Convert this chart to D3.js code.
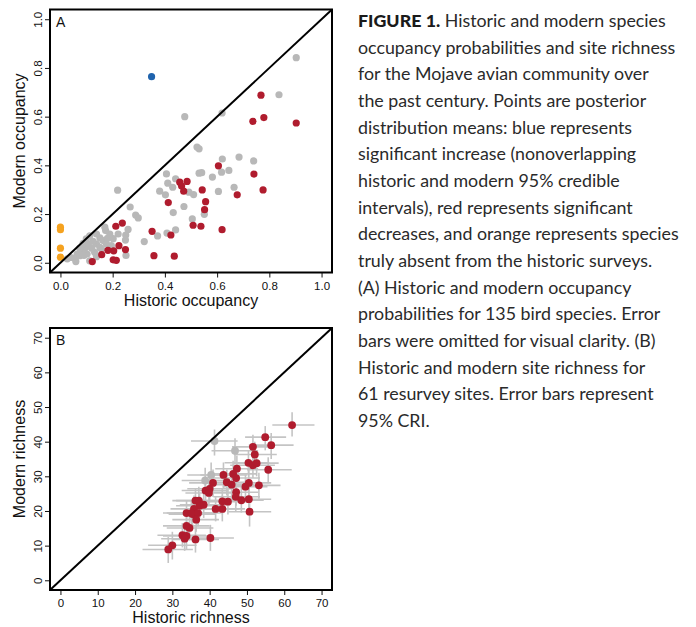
<!DOCTYPE html>
<html>
<head>
<meta charset="utf-8">
<script src="https://cdn.jsdelivr.net/npm/d3@7"></script>
<style>
  html, body { margin: 0; padding: 0; background: #fff; }
  svg { display: block; }
  .tick text { font-family: "Liberation Sans", Arial, sans-serif; font-size: 11.5px; fill: #111; }
  .tick line { stroke: #111; stroke-width: 1; }
  .axis-title { font-family: "Liberation Sans", Arial, sans-serif; font-size: 16px; fill: #111; }
  .panel-tag { font-family: "Liberation Sans", Arial, sans-serif; font-size: 14px; fill: #111; }
  .caption { font-family: Lato, "Open Sans", sans-serif; fill: #2a2a2a; }
</style>
</head>
<body>
<svg id="chart" width="696" height="627"></svg>
<script>
// ---- Panel A: occupancy (historic, modern) ----
const occGray = [
  [0.903, 0.842], [0.837, 0.690], [0.619, 0.615], [0.476, 0.600], [0.523, 0.475],
  [0.531, 0.468], [0.684, 0.434], [0.620, 0.426], [0.740, 0.418], [0.645, 0.379],
  [0.617, 0.372], [0.582, 0.352], [0.531, 0.368], [0.541, 0.370], [0.406, 0.365],
  [0.411, 0.327], [0.430, 0.310], [0.441, 0.345], [0.380, 0.294], [0.402, 0.279],
  [0.473, 0.231], [0.432, 0.206], [0.510, 0.280], [0.505, 0.180], [0.551, 0.199],
  [0.605, 0.293], [0.665, 0.310], [0.492, 0.290], [0.219, 0.298], [0.267, 0.229],
  [0.288, 0.196], [0.298, 0.184], [0.321, 0.087], [0.372, 0.110], [0.408, 0.122],
  [0.441, 0.135], [0.259, 0.137], [0.250, 0.114], [0.249, 0.093], [0.251, 0.030],
  [0.221, 0.118], [0.202, 0.099], [0.189, 0.118], [0.173, 0.132], [0.170, 0.146],
  [0.163, 0.091], [0.151, 0.102], [0.138, 0.077], [0.125, 0.088], [0.107, 0.077],
  [0.097, 0.063], [0.084, 0.049], [0.074, 0.060], [0.064, 0.036], [0.055, 0.019],
  [0.038, 0.022], [0.026, 0.016], [0.102, 0.036], [0.112, 0.008], [0.138, 0.025],
  [0.157, 0.056], [0.112, 0.111], [0.099, 0.098], [0.087, 0.080], [0.151, 0.063],
  [0.131, 0.043], [0.176, 0.077], [0.195, 0.070], [0.074, 0.029], [0.059, 0.005],
  [0.138, 0.118], [0.120, 0.060], [0.090, 0.030], [0.180, 0.100]
];
const occRed = [
  [0.768, 0.688], [0.737, 0.581], [0.779, 0.596], [0.903, 0.574], [0.605, 0.398],
  [0.741, 0.364], [0.776, 0.299], [0.677, 0.279], [0.457, 0.331], [0.485, 0.334],
  [0.464, 0.315], [0.472, 0.294], [0.543, 0.299], [0.556, 0.251], [0.552, 0.218],
  [0.413, 0.247], [0.508, 0.154], [0.538, 0.150], [0.619, 0.136], [0.351, 0.129],
  [0.423, 0.114], [0.358, 0.029], [0.436, 0.027], [0.237, 0.163], [0.212, 0.150],
  [0.249, 0.054], [0.224, 0.070], [0.182, 0.051], [0.204, 0.049], [0.158, 0.033],
  [0.122, 0.005], [0.202, 0.012], [0.214, 0.010]
];
const occBlue = [[0.349, 0.764]];
const occOrange = [[0.0, 0.146], [0.0, 0.136], [0.0, 0.060], [0.0, 0.023]];
const occTicks = [0, 0.2, 0.4, 0.6, 0.8, 1.0];

// ---- Panel B: site richness with 95% CRI ----
const richRedHist = [62.1, 54.9, 56.5, 51.6, 52.1, 50.4, 51.6, 52.6, 55.7, 47.3,
  46.3, 47.1, 43.7, 40.9, 44.6, 45.9, 50.5, 49.6, 53.2, 38.9,
  40.0, 39.8, 47.1, 47.0, 48.5, 50.5, 50.7, 43.4, 44.9, 43.4,
  41.6, 38.4, 36.2, 37.1, 37.3, 35.8, 35.4, 33.8, 35.1, 36.9,
  36.4, 33.8, 34.6, 32.7, 33.8, 33.3, 36.2, 40.2, 30.0, 28.9];
const richRedMod = [44.8, 41.3, 39.0, 38.5, 36.3, 33.9, 33.2, 33.8, 31.9, 32.2,
  30.7, 29.5, 30.4, 28.1, 28.3, 27.6, 28.1, 27.0, 27.4, 25.9,
  26.4, 25.2, 25.4, 24.1, 23.1, 23.4, 19.8, 22.8, 22.7, 20.6,
  20.6, 21.8, 23.0, 23.0, 21.5, 20.6, 19.1, 19.4, 19.4, 19.4,
  17.5, 15.7, 15.1, 13.0, 12.8, 12.0, 11.8, 12.2, 10.1, 8.9];
const richRedHistLo = [56.8, 49.5, 50.5, 46.0, 46.5, 44.0, 45.5, 46.5, 50.0, 41.5,
  40.0, 41.0, 37.5, 34.5, 38.5, 40.0, 44.5, 43.5, 47.0, 32.5,
  34.0, 33.5, 41.0, 41.0, 42.5, 44.0, 45.0, 37.0, 38.5, 37.5,
  35.5, 32.0, 30.0, 31.0, 31.0, 29.5, 29.0, 27.5, 28.5, 30.5,
  30.0, 27.5, 28.5, 26.0, 27.5, 27.0, 30.0, 33.5, 23.5, 22.0];
const richRedHistHi = [68.1, 60.5, 62.5, 57.0, 58.0, 56.0, 57.5, 58.5, 62.0, 53.0,
  52.5, 53.5, 50.0, 47.0, 50.5, 52.0, 56.5, 55.5, 59.0, 45.0,
  46.5, 46.0, 53.0, 53.5, 54.5, 56.5, 56.5, 49.5, 51.0, 49.5,
  48.0, 44.5, 42.5, 43.5, 43.5, 42.0, 41.5, 40.0, 41.5, 43.0,
  42.5, 40.0, 41.0, 39.0, 40.5, 39.5, 42.5, 46.5, 36.5, 35.5];
const richRedModLo = [41.5, 37.5, 35.0, 34.5, 32.5, 30.0, 29.5, 30.0, 28.0, 28.5,
  27.0, 25.5, 26.5, 24.0, 24.5, 23.5, 24.0, 23.0, 23.5, 22.0,
  22.5, 21.5, 21.5, 20.0, 19.5, 19.5, 15.5, 19.0, 19.0, 17.0,
  17.0, 18.0, 19.5, 19.0, 18.0, 17.0, 15.5, 15.5, 16.0, 15.5,
  14.0, 12.0, 11.5, 9.5, 9.0, 8.5, 8.0, 8.5, 6.0, 5.0];
const richRedModHi = [48.5, 44.5, 42.5, 42.0, 40.0, 37.5, 36.5, 37.0, 35.5, 36.0,
  34.5, 33.0, 34.0, 32.0, 32.0, 31.5, 32.0, 30.5, 31.0, 29.5,
  30.0, 29.0, 29.0, 28.0, 27.0, 27.5, 23.5, 26.5, 26.5, 24.5,
  24.0, 25.5, 26.5, 27.0, 25.0, 24.5, 23.0, 23.0, 23.0, 23.5,
  21.0, 19.5, 18.5, 16.5, 16.5, 15.5, 15.5, 16.0, 14.0, 12.5];
const richGrayHist = [41.3, 46.8, 40.4, 38.8];
const richGrayMod = [40.2, 37.4, 30.4, 28.8];
const richGrayHistLo = [35.0, 40.5, 34.0, 32.5];
const richGrayHistHi = [47.5, 53.0, 46.5, 45.0];
const richGrayModLo = [36.0, 33.5, 26.5, 25.0];
const richGrayModHi = [43.5, 41.0, 34.0, 32.5];
const richTicks = [0, 10, 20, 30, 40, 50, 60, 70];

const captionLines = [
  "Historic and modern species",
  "occupancy probabilities and site richness",
  "for the Mojave avian community over",
  "the past century. Points are posterior",
  "distribution means: blue represents",
  "significant increase (nonoverlapping",
  "historic and modern 95% credible",
  "intervals), red represents significant",
  "decreases, and orange represents species",
  "truly absent from the historic surveys.",
  "(A) Historic and modern occupancy",
  "probabilities for 135 bird species. Error",
  "bars were omitted for visual clarity. (B)",
  "Historic and modern site richness for",
  "61 resurvey sites. Error bars represent",
  "95% CRI."
];

const colors = { gray: "#b8b8b8", red: "#b01c2e", blue: "#1f63ad", orange: "#f5a21f", bar: "#c4c4c4" };

const svg = d3.select("#chart");

function drawPanel(cfg) {
  const { left, right, top, bottom, domain, ticks, fmt } = cfg;
  const x = d3.scaleLinear().domain(domain).range([left, right]);
  const y = d3.scaleLinear().domain(domain).range([bottom, top]);
  const g = svg.append("g");

  const xAxis = g.append("g")
    .attr("transform", `translate(0,${bottom})`)
    .call(d3.axisBottom(x).tickValues(ticks).tickFormat(fmt).tickSize(5).tickSizeOuter(0));
  xAxis.select(".domain").remove();
  xAxis.selectAll("text").attr("dy", null).attr("y", 17);

  const yAxis = g.append("g")
    .attr("transform", `translate(${left},0)`)
    .call(d3.axisLeft(y).tickValues(ticks).tickFormat(fmt).tickSize(5).tickSizeOuter(0));
  yAxis.select(".domain").remove();
  yAxis.selectAll("text")
    .attr("x", 0).attr("y", -8).attr("dy", null)
    .attr("text-anchor", "middle")
    .attr("transform", "rotate(-90)");

  const plot = g.append("g");
  cfg.drawMarks(plot, x, y);

  // y = x reference line
  g.append("line")
    .attr("x1", x(domain[0])).attr("y1", y(domain[0]))
    .attr("x2", x(domain[1])).attr("y2", y(domain[1]))
    .attr("stroke", "#000").attr("stroke-width", 2);

  g.append("rect")
    .attr("x", left).attr("y", top)
    .attr("width", right - left).attr("height", bottom - top)
    .attr("fill", "none").attr("stroke", "#000").attr("stroke-width", 2);

  g.append("text").attr("class", "panel-tag")
    .attr("x", left + 6).attr("y", top + 17).text(cfg.tag);

  g.append("text").attr("class", "axis-title")
    .attr("x", (left + right) / 2).attr("y", bottom + 33)
    .attr("text-anchor", "middle").text(cfg.xTitle);

  g.append("text").attr("class", "axis-title")
    .attr("transform", `translate(${left - 25},${(top + bottom) / 2}) rotate(-90)`)
    .attr("text-anchor", "middle").text(cfg.yTitle);
}

function dots(sel, data, fill, r) {
  sel.selectAll(null).data(data).join("circle")
    .attr("cx", d => d.x).attr("cy", d => d.y).attr("r", r).attr("fill", fill);
}

drawPanel({
  left: 50, right: 332, top: 9.5, bottom: 272.5,
  domain: [-0.04, 1.04], ticks: occTicks, fmt: d3.format(".1f"),
  tag: "A", xTitle: "Historic occupancy", yTitle: "Modern occupancy",
  drawMarks: (plot, x, y) => {
    const toPt = d => ({ x: x(d[0]), y: y(d[1]) });
    dots(plot, occGray.map(toPt), colors.gray, 3.6);
    dots(plot, occRed.map(toPt), colors.red, 3.6);
    dots(plot, occOrange.map(toPt), colors.orange, 3.6);
    dots(plot, occBlue.map(toPt), colors.blue, 3.6);
  }
});

drawPanel({
  left: 50, right: 332, top: 328, bottom: 590,
  domain: [-2.8, 72.8], ticks: richTicks, fmt: d3.format("d"),
  tag: "B", xTitle: "Historic richness", yTitle: "Modern richness",
  drawMarks: (plot, x, y) => {
    const rows = (h, m, hl, hh, ml, mh) => h.map((v, i) => ({ h: v, m: m[i], hl: hl[i], hh: hh[i], ml: ml[i], mh: mh[i] }));
    const red = rows(richRedHist, richRedMod, richRedHistLo, richRedHistHi, richRedModLo, richRedModHi);
    const gray = rows(richGrayHist, richGrayMod, richGrayHistLo, richGrayHistHi, richGrayModLo, richGrayModHi);
    const all = gray.concat(red);
    const bars = plot.append("g").attr("stroke", colors.bar).attr("stroke-width", 1.6);
    bars.selectAll(null).data(all).join("line")
      .attr("x1", d => x(d.hl)).attr("x2", d => x(d.hh))
      .attr("y1", d => y(d.m)).attr("y2", d => y(d.m));
    bars.selectAll(null).data(all).join("line")
      .attr("x1", d => x(d.h)).attr("x2", d => x(d.h))
      .attr("y1", d => y(d.ml)).attr("y2", d => y(d.mh));
    dots(plot, gray.map(d => ({ x: x(d.h), y: y(d.m) })), colors.gray, 3.9);
    dots(plot, red.map(d => ({ x: x(d.h), y: y(d.m) })), colors.red, 3.9);
  }
});

// ---- Caption ----
const cap = svg.append("g").attr("class", "caption");
// fit font size so the widest line spans the reference width
const probe = cap.append("text").attr("font-size", 100).text(captionLines[8]);
const fontSize = 100 * 321 / probe.node().getComputedTextLength();
probe.remove();

captionLines.forEach((line, i) => {
  const t = cap.append("text")
    .attr("x", 358).attr("y", 27 + i * 26.67)
    .attr("font-size", fontSize);
  if (i === 0) {
    t.append("tspan").attr("font-weight", 900).attr("fill", "#1a1a1a").text("FIGURE 1.");
    t.append("tspan").text(" " + line);
  } else {
    t.text(line);
  }
});
</script>
</body>
</html>
